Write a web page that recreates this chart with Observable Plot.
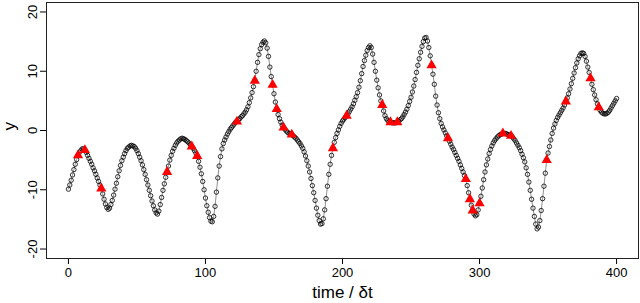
<!DOCTYPE html>
<html><head><meta charset="utf-8">
<script src="https://cdn.jsdelivr.net/npm/d3@7"></script>
<script src="https://cdn.jsdelivr.net/npm/@observablehq/plot@0.6"></script>
<style>html,body{margin:0;padding:0;background:#fff}#chart svg{display:block}</style>
</head><body><div id="chart"></div>
<script>
// state y(t) sampled every time step t = 0..400
const yValues = [
-9.9,-9.2,-8.4,-7.5,-6.6,-5.7,-4.9,-4.2,-3.7,-3.4,
-3.1,-3.1,-3.3,-3.7,-4.2,-4.7,-5.2,-5.7,-6.3,-6.8,
-7.4,-8.0,-8.6,-9.2,-9.8,-10.7,-11.6,-12.4,-13.0,-13.3,
-13.1,-12.5,-11.8,-10.9,-9.9,-8.9,-7.8,-6.8,-5.9,-5.1,
-4.5,-3.9,-3.4,-3.0,-2.8,-2.6,-2.5,-2.6,-2.7,-3.0,
-3.4,-3.9,-4.5,-5.1,-5.8,-6.6,-7.4,-8.3,-9.2,-10.1,
-11.0,-11.9,-12.7,-13.4,-13.9,-14.1,-13.6,-12.5,-11.3,-10.1,
-9.0,-7.9,-7.0,-6.0,-5.0,-4.2,-3.5,-3.0,-2.5,-2.1,
-1.8,-1.6,-1.4,-1.3,-1.4,-1.5,-1.7,-1.9,-2.1,-2.4,
-2.7,-3.0,-3.4,-3.8,-4.3,-5.2,-6.2,-7.3,-8.6,-10.0,
-11.4,-12.7,-13.8,-14.7,-15.3,-15.4,-14.5,-12.8,-10.4,-8.0,
-6.0,-4.4,-3.1,-2.2,-1.6,-1.1,-0.6,-0.2,0.2,0.5,
0.8,1.1,1.4,1.6,1.8,2.0,2.3,2.5,2.8,3.1,
3.5,4.0,4.7,5.5,6.4,7.4,8.5,10.0,11.5,12.8,
13.8,14.5,14.9,15.1,14.8,13.9,12.5,10.7,9.1,7.7,
6.2,4.8,3.6,2.7,2.0,1.4,0.9,0.5,0.2,-0.1,
-0.3,-0.5,-0.6,-0.7,-0.9,-1.1,-1.3,-1.6,-1.9,-2.2,
-2.6,-3.0,-3.6,-4.3,-5.1,-6.0,-7.0,-8.1,-9.3,-10.5,
-11.8,-13.1,-14.3,-15.2,-15.8,-15.7,-14.9,-13.4,-11.5,-9.4,
-7.4,-5.7,-4.2,-3.0,-2.0,-1.2,-0.5,0.1,0.7,1.2,
1.6,1.9,2.2,2.5,2.8,3.2,3.6,4.0,4.5,5.1,
5.7,6.4,7.3,8.4,9.6,10.8,11.8,12.7,13.5,14.0,
14.3,14.0,12.9,11.5,10.0,8.5,7.2,6.0,5.0,4.2,
3.3,2.5,2.0,1.7,1.5,1.4,1.3,1.3,1.3,1.3,
1.4,1.6,1.8,2.0,2.3,2.7,3.1,3.6,4.2,4.9,
5.6,6.5,7.5,8.6,9.8,11.0,12.1,13.2,14.2,15.0,
15.6,15.7,15.1,14.0,12.6,11.0,9.5,7.8,5.8,4.3,
3.0,2.0,1.2,0.6,0.1,-0.4,-0.9,-1.3,-1.8,-2.3,
-2.8,-3.2,-3.7,-4.2,-4.7,-5.2,-5.8,-6.4,-7.0,-7.6,
-8.2,-9.3,-10.5,-11.6,-12.6,-13.4,-14.1,-14.4,-14.2,-13.4,
-12.3,-11.1,-9.7,-8.3,-7.0,-5.8,-4.8,-3.9,-3.2,-2.6,
-2.1,-1.7,-1.4,-1.1,-0.9,-0.7,-0.6,-0.5,-0.5,-0.5,
-0.6,-0.7,-0.8,-0.9,-1.1,-1.4,-1.7,-2.1,-2.5,-2.9,
-3.4,-4.0,-4.6,-5.3,-6.3,-7.4,-8.7,-10.1,-11.6,-13.1,
-14.5,-15.8,-16.6,-16.3,-15.2,-13.5,-11.5,-9.4,-7.2,-5.0,
-3.8,-2.7,-1.6,-0.5,0.4,1.1,1.7,2.2,2.6,3.0,
3.4,3.8,4.3,4.9,5.5,6.2,7.0,7.9,8.8,9.7,
10.6,11.4,12.1,12.6,13.0,13.1,13.0,12.5,11.7,10.7,
9.8,8.8,7.8,6.9,6.0,5.2,4.5,3.9,3.4,3.1,
2.9,2.8,2.8,2.9,3.1,3.4,3.8,4.2,4.6,5.0,
5.4
];
const timeStart = 0;
const timeTicks = [0, 100, 200, 300, 400];
const yTicks = [-20, -10, 0, 10, 20];

// observations (red triangles)
const obsTimes  = [7, 12, 24, 72, 90, 94, 123, 136, 149, 152, 157, 163, 193, 203, 229, 235, 240, 265, 277, 290, 293, 295, 300, 317, 323, 349, 363, 381, 387];
const obsValues = [-4.2, -3.3, -9.8, -7.0, -2.7, -4.3, 1.5, 8.4, 7.7, 3.6, 0.5, -0.7, -3.0, 2.5, 4.3, 1.4, 1.4, 11.0, -1.3, -8.2, -11.6, -13.5, -12.3, -0.5, -0.9, -5.0, 4.9, 8.8, 3.9];

const series = yValues.map((y, i) => ({t: timeStart + i, y}));
const obs = obsTimes.map((t, i) => ({t, y: obsValues[i]}));

const font = "'Liberation Sans', Arial, Helvetica, sans-serif";
const chart = Plot.plot({
  width: 640, height: 303,
  marginLeft: 46, marginRight: 2, marginTop: 2, marginBottom: 45,
  style: {fontFamily: font, fontSize: "13px", color: "#000", background: "#fff"},
  x: {domain: [-16, 416]},
  y: {domain: [-21.6, 21.6]},
  marks: [
    Plot.axisX({ticks: timeTicks, tickSize: 6, tickPadding: 3, tickFormat: d => String(d), label: null, fontSize: 13}),
    Plot.axisY({ticks: yTicks, tickSize: 6, tickPadding: 4, tickRotate: -90, tickFormat: d => String(d), label: null, fontSize: 13}),
    Plot.text(["time / \u03b4t"], {frameAnchor: "bottom", dy: 34, lineAnchor: "middle", fontSize: 17, fill: "#000"}),
    Plot.text(["y"], {frameAnchor: "left", dx: -37, rotate: -90, lineAnchor: "middle", fontSize: 17, fill: "#000"}),
    Plot.line(series, {x: "t", y: "y", stroke: "#444", strokeWidth: 0.6}),
    Plot.dot(series, {x: "t", y: "y", r: 2.2, stroke: "#000", strokeWidth: 0.8, fill: "none"}),
    Plot.dot(obs, {x: "t", y: "y", symbol: "triangle", r: 3.8, fill: "#ff0000", stroke: "none"}),
    Plot.frame({stroke: "#222", strokeWidth: 1})
  ]
});
document.getElementById("chart").appendChild(chart);
</script>
</body></html>
